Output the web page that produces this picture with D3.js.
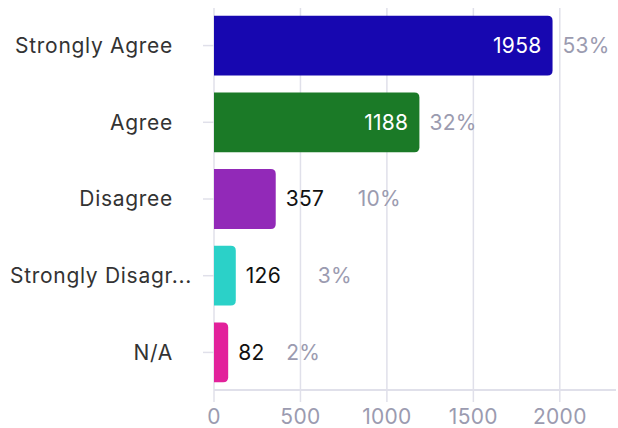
<!DOCTYPE html>
<html>
<head>
<meta charset="utf-8">
<script src="https://cdn.jsdelivr.net/npm/d3@7"></script>
<style>
  body { margin: 0; background: #fff; }
  text { font-family: "Inter", "Noto Sans", sans-serif; letter-spacing: 0.3px; }
  text.ylabel { letter-spacing: 0.7px; }
</style>
</head>
<body>
<div id="chart"></div>
<script>
// survey answers
var categories = [ 'Strongly Agree', 'Agree', 'Disagree', 'Strongly Disagree', 'N/A' ];
var counts = [ 1958, 1188, 357, 126, 82 ];
var percents = [ '53%', '32%', '10%', '3%', '2%' ];
var colors = [ '#1707b0', '#1b7a27', '#9229b8', '#2bd1c8', '#e2219b' ];
var xTicks = [ 0, 500, 1000, 1500, 2000 ];

var width = 618, height = 428;
var margin = { top: 8, right: 2, bottom: 38, left: 214 };

var gridColor = '#e0e0ea';
var pctColor = '#9b9bb0';
var fontSize = '21px';

var svg = d3.select( '#chart' ).append( 'svg' )
  .attr( 'width', width )
  .attr( 'height', height );

var x = d3.scaleLinear()
  .domain( [ 0, 2325 ] )
  .range( [ margin.left, width - margin.right ] );

var y = d3.scaleBand()
  .domain( categories )
  .range( [ margin.top, height - margin.bottom ] )
  .paddingInner( 0.22 )
  .paddingOuter( 0.1 );

// grid lines
svg.selectAll( '.grid' )
  .data( xTicks )
  .enter()
  .append( 'line' )
  .attr( 'class', 'grid' )
  .attr( 'x1', function( d ) { return x( d ); } )
  .attr( 'x2', function( d ) { return x( d ); } )
  .attr( 'y1', margin.top )
  .attr( 'y2', height - margin.bottom + 12 )
  .attr( 'stroke', gridColor )
  .attr( 'stroke-width', 1.5 );

// x axis line
svg.append( 'line' )
  .attr( 'x1', margin.left )
  .attr( 'x2', width - margin.right )
  .attr( 'y1', height - margin.bottom )
  .attr( 'y2', height - margin.bottom )
  .attr( 'stroke', gridColor )
  .attr( 'stroke-width', 2 );

svg.selectAll( '.xlabel' )
  .data( xTicks )
  .enter()
  .append( 'text' )
  .attr( 'class', 'xlabel' )
  .attr( 'x', function( d ) { return x( d ); } )
  .attr( 'y', height - 4 )
  .attr( 'text-anchor', 'middle' )
  .attr( 'font-size', fontSize )
  .attr( 'fill', pctColor )
  .text( function( d ) { return d; } );

// y ticks + labels
svg.selectAll( '.ytick' )
  .data( categories )
  .enter()
  .append( 'line' )
  .attr( 'class', 'ytick' )
  .attr( 'x1', margin.left - 11 )
  .attr( 'x2', margin.left )
  .attr( 'y1', function( d ) { return y( d ) + y.bandwidth() / 2; } )
  .attr( 'y2', function( d ) { return y( d ) + y.bandwidth() / 2; } )
  .attr( 'stroke', gridColor )
  .attr( 'stroke-width', 1.5 );

var maxLabel = 195;
svg.selectAll( '.ylabel' )
  .data( categories )
  .enter()
  .append( 'text' )
  .attr( 'class', 'ylabel' )
  .attr( 'x', 173 )
  .attr( 'y', function( d ) { return y( d ) + y.bandwidth() / 2; } )
  .attr( 'dy', '0.35em' )
  .attr( 'text-anchor', 'end' )
  .attr( 'font-size', fontSize )
  .attr( 'fill', '#333' )
  .text( function( d ) { return d; } )
  .each( function( d ) {
    if ( this.getComputedTextLength() <= 168 ) return;
    // too long: left aligned and cut with dots
    var node = d3.select( this ).attr( 'x', 10 ).attr( 'text-anchor', 'start' );
    var s = d;
    node.text( s + '...' );
    while ( this.getComputedTextLength() > maxLabel && s.length > 1 ) {
      s = s.slice( 0, -1 );
      node.text( s.trim() + '...' );
    }
  } );

// bars, rounded on the right only
function barPath( x0, y0, w, h, r ) {
  r = Math.min( r, w );
  return 'M' + x0 + ',' + y0 +
    'H' + ( x0 + w - r ) +
    'Q' + ( x0 + w ) + ',' + y0 + ' ' + ( x0 + w ) + ',' + ( y0 + r ) +
    'V' + ( y0 + h - r ) +
    'Q' + ( x0 + w ) + ',' + ( y0 + h ) + ' ' + ( x0 + w - r ) + ',' + ( y0 + h ) +
    'H' + x0 + 'Z';
}

var rows = categories.map( function( c, i ) {
  return { cat: c, value: counts[ i ], pct: percents[ i ], color: colors[ i ] };
} );

svg.selectAll( '.bar' )
  .data( rows )
  .enter()
  .append( 'path' )
  .attr( 'class', 'bar' )
  .attr( 'fill', function( d ) { return d.color; } )
  .attr( 'd', function( d ) {
    return barPath( x( 0 ), y( d.cat ), x( d.value ) - x( 0 ), y.bandwidth(), 5 );
  } );

rows.forEach( function( d ) {
  var end = x( d.value );
  var cy = y( d.cat ) + y.bandwidth() / 2;
  var inside = d.value > 1000;
  var label = String( d.value );
  svg.append( 'text' )
    .attr( 'x', inside ? end - 11 : end + 10 )
    .attr( 'y', cy )
    .attr( 'dy', '0.35em' )
    .attr( 'text-anchor', inside ? 'end' : 'start' )
    .attr( 'font-size', fontSize )
    .attr( 'fill', inside ? '#fff' : '#111' )
    .text( label );
  svg.append( 'text' )
    .attr( 'x', inside ? end + 10 : end + 10 + label.length * 24 )
    .attr( 'y', cy )
    .attr( 'dy', '0.35em' )
    .attr( 'font-size', fontSize )
    .attr( 'fill', pctColor )
    .text( d.pct );
} );
</script>
</body>
</html>
